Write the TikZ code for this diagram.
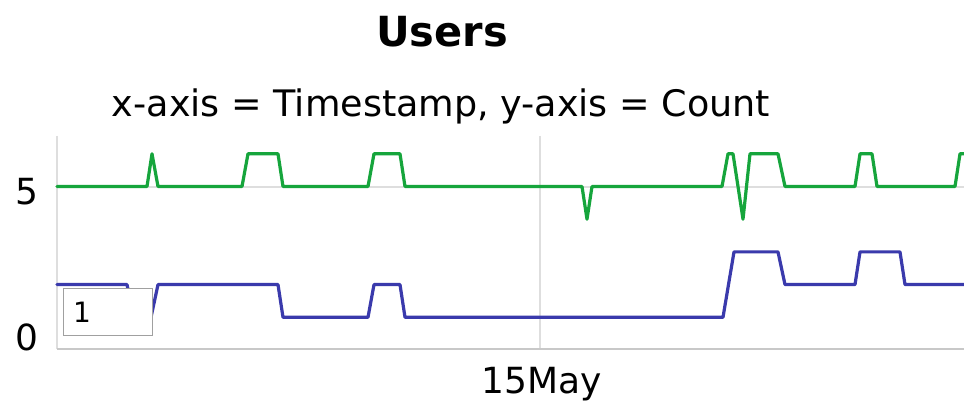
\documentclass[tikz,border=0pt]{standalone}
\usepackage{fontspec}
\setmainfont{DejaVu Sans}
\definecolor{seriesgreen}{RGB}{22,165,60}
\definecolor{seriesblue}{RGB}{58,58,172}
\definecolor{gridgray}{RGB}{222,222,222}
\definecolor{axisgray}{RGB}{200,200,200}
\definecolor{boxgray}{RGB}{160,160,160}
\tikzset{
  titletext/.style={inner sep=0pt, anchor=base, font=\fontsize{41.5}{45}\bfseries\selectfont},
  subtitletext/.style={inner sep=0pt, anchor=base, font=\fontsize{36.5}{40}\selectfont},
  ticktext/.style={inner sep=0pt, anchor=base, font=\fontsize{36}{40}\selectfont},
  gridline/.style={draw=gridgray, line width=1.2pt},
  axisline/.style={draw=axisgray, line width=2pt},
  series/.style={line width=3.2pt, line join=round, line cap=round},
  labelbox/.style={draw=boxgray, fill=white, line width=1.2pt, minimum width=89pt,
    minimum height=47pt, inner sep=0pt, anchor=north west},
}
\begin{document}
\begin{tikzpicture}[x=1pt,y=1pt]
  % canvas: 964 x 403, origin at the top-left corner
  \useasboundingbox (0,0) rectangle (964,-403);
  \fill[white] (0,0) rectangle (964,-403);

  % titles
  \node[titletext] (title) at (442,-47) {Users};
  \node[subtitletext] (subtitle) at (441,-117) {x-axis = Timestamp, y-axis = Count};

  % grid and axes
  \draw[gridline] (57,-187) -- (964,-187);
  \draw[gridline] (540,-136) -- (540,-349);
  \draw[gridline] (57,-136) -- (57,-349);
  \draw[axisline] (57,-349) -- (964,-349);

  % tick labels
  \node[ticktext] (ytickfive) at (27,-205) {5};
  \node[ticktext] (ytickzero) at (27,-350) {0};
  \node[ticktext] (xtickmay) at (542,-393) {15May};

  % data series: x in px, y in counts
  \begin{scope}[yshift=-350pt, y=32.7pt]
    \draw[series, seriesgreen]
      (57,5) -- (147,5) -- (152,6) -- (158,5) -- (242,5) -- (248,6) -- (278,6)
      -- (283,5) -- (368,5) -- (374,6) -- (400,6) -- (405,5) -- (582,5)
      -- (587,4) -- (592,5) -- (722,5) -- (728,6) -- (733,6) -- (743,4)
      -- (750,6) -- (778,6) -- (785,5) -- (855,5) -- (860,6) -- (872,6)
      -- (877,5) -- (955,5) -- (960,6) -- (964,6);
    \draw[series, seriesblue]
      (57,2) -- (127,2) -- (134,1) -- (151,1) -- (158,2) -- (278,2) -- (283,1)
      -- (368,1) -- (374,2) -- (400,2) -- (405,1) -- (723,1) -- (734,3)
      -- (778,3) -- (785,2) -- (855,2) -- (860,3) -- (900,3) -- (905,2)
      -- (964,2);
  \end{scope}

  % value tooltip box
  \node[labelbox] (valuebox) at (63,-288) {};
  \node[inner sep=0pt, anchor=base west, font=\fontsize{28}{32}\selectfont]
    (valuetext) at (73,-323) {1};
\end{tikzpicture}
\end{document}
